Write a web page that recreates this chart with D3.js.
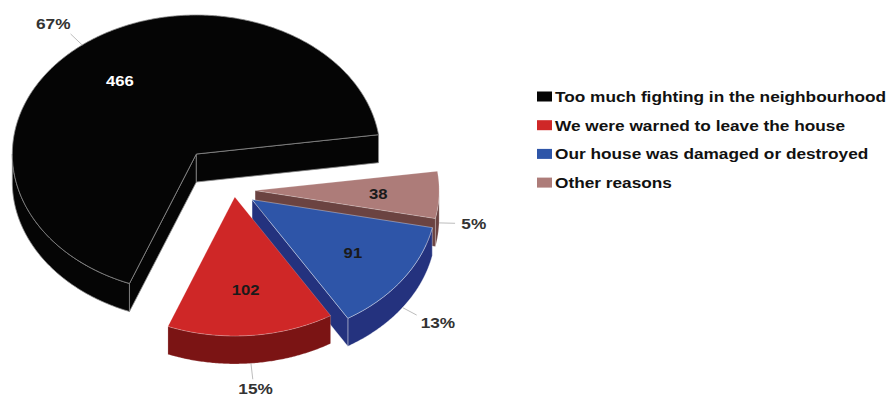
<!DOCTYPE html>
<html><head><meta charset="utf-8">
<script src="https://cdn.jsdelivr.net/npm/d3@7"></script>
<style>body{margin:0;background:#fff}svg{display:block}</style>
</head><body>
<svg id="chart" width="893" height="397"></svg>
<script>
// ---- data ----
const categories = ["Too much fighting in the neighbourhood", "We were warned to leave the house", "Our house was damaged or destroyed", "Other reasons"];
const values = [466, 102, 91, 38];

// ---- style ----
const topColors = ["#050505", "#cf2727", "#2e55a8", "#ad7c79"];
const sideColors = ["#050505", "#7b1414", "#24327e", "#6b4341"];
const strokeColors = ["#8a8a8a", "rgba(255,255,255,0.25)", "rgba(255,255,255,0.45)", "rgba(255,255,255,0.25)"];
const explode = [0.33, 0.05, 0.12, 0.115];
const valueColors = ["#ffffff", "#1a1a1a", "#1a1a1a", "#1a1a1a"];

const W = 893, H = 397;
const svg = d3.select("#chart");
svg.append("rect").attr("width", W).attr("height", H).attr("fill", "#fff");

const cx = 234, cy = 190, RX = 184, RY = 139, DEPTH = 28;
const deg = Math.PI / 180;
const a0 = 82 * deg;
const FONT = "'Liberation Sans', Arial, Helvetica, sans-serif";
const SX = 1.15;

const pie = d3.pie().sort(null).startAngle(a0).endAngle(a0 - 2 * Math.PI);
const arcs = pie(values);
const total = d3.sum(values);
const pct = d3.format(".0%");

function proj(o, a, r, z) {
  return [o[0] + r * RX * Math.sin(a), o[1] - r * RY * Math.cos(a) + z];
}
const line = d3.line();

function samples(lo, hi) {
  const n = Math.max(2, Math.ceil((hi - lo) / (0.5 * deg)));
  return d3.range(n + 1).map(k => lo + (hi - lo) * k / n);
}

const slices = arcs.map((d, i) => {
  const lo = Math.min(d.startAngle, d.endAngle);
  const hi = Math.max(d.startAngle, d.endAngle);
  const mid = (lo + hi) / 2;
  const apex = proj([cx, cy], mid, explode[i], 0);
  return { i, d, lo, hi, mid, apex };
});

const order = slices.slice().sort((a, b) => (-Math.cos(a.mid)) - (-Math.cos(b.mid)));

const g = svg.append("g");

order.forEach(s => {
  const gs = g.append("g");
  const faces = [];
  // outer wall (front half only)
  for (let k = -3; k <= 3; k++) {
    const f0 = Math.PI / 2 + 2 * Math.PI * k, f1 = 3 * Math.PI / 2 + 2 * Math.PI * k;
    const l = Math.max(s.lo, f0), h = Math.min(s.hi, f1);
    if (h > l) {
      const as = samples(l, h);
      const pts = as.map(a => proj(s.apex, a, 1, 0)).concat(as.slice().reverse().map(a => proj(s.apex, a, 1, DEPTH)));
      faces.push(pts);
    }
  }
  // cut faces
  if (Math.sin(s.lo) < 0) {
    faces.push([proj(s.apex, s.lo, 0, 0), proj(s.apex, s.lo, 1, 0), proj(s.apex, s.lo, 1, DEPTH), proj(s.apex, s.lo, 0, DEPTH)]);
  }
  if (Math.sin(s.hi) > 0) {
    faces.push([proj(s.apex, s.hi, 0, 0), proj(s.apex, s.hi, 1, 0), proj(s.apex, s.hi, 1, DEPTH), proj(s.apex, s.hi, 0, DEPTH)]);
  }
  faces.forEach(pts => {
    gs.append("path").attr("d", line(pts) + "Z")
      .attr("fill", sideColors[s.i]).attr("stroke", strokeColors[s.i])
      .attr("stroke-width", 0.8).attr("stroke-linejoin", "round");
  });
  // top face
  const topPts = [proj(s.apex, s.lo, 0, 0)].concat(samples(s.lo, s.hi).map(a => proj(s.apex, a, 1, 0)));
  gs.append("path").attr("d", line(topPts) + "Z")
    .attr("fill", topColors[s.i]).attr("stroke", strokeColors[s.i])
    .attr("stroke-width", 0.8).attr("stroke-linejoin", "round");
});

function stretchedText(parent, x, y, txt, opts) {
  const gg = parent.append("g").attr("transform", `translate(${x},${y}) scale(${SX},1)`);
  return gg.append("text").text(txt)
    .attr("font-family", FONT).attr("font-weight", "bold")
    .attr("font-size", opts.size || 14)
    .attr("text-anchor", opts.anchor || "middle")
    .attr("dy", opts.dy || "0.36em")
    .attr("fill", opts.fill || "#222");
}

// value labels inside slices
slices.forEach(s => {
  const p = proj(s.apex, s.mid, 0.67, 0);
  stretchedText(svg, p[0], p[1], String(values[s.i]), { fill: valueColors[s.i], size: 14.5 });
});

// percent labels with leader lines
slices.forEach(s => {
  const front = -Math.cos(s.mid) > 0;
  const st = proj(s.apex, s.mid, 1, front ? DEPTH : 0);
  let dx = RX * Math.sin(s.mid), dy = -RY * Math.cos(s.mid);
  const len = Math.hypot(dx, dy); dx /= len; dy /= len;
  const en = [st[0] + dx * 16, st[1] + dy * 16];
  svg.append("line").attr("x1", st[0]).attr("y1", st[1]).attr("x2", en[0]).attr("y2", en[1])
    .attr("stroke", "#bdbdbd").attr("stroke-width", 1);
  const txt = pct(values[s.i] / total);
  const hw = txt.length * 0.62 * 15 * SX / 2, hh = 5;
  const c = [en[0] + dx * (hw + 8), Math.min(H - 8, en[1] + dy * (hh + 10))];
  stretchedText(svg, c[0], c[1], txt, { fill: "#333", size: 15 });
});

// legend
const lg = svg.append("g");
categories.forEach((c, i) => {
  const y = 102 + i * 28.7;
  lg.append("rect").attr("x", 537).attr("y", y - 10.5).attr("width", 15).attr("height", 10)
    .attr("fill", topColors[i]);
  stretchedText(lg, 555, y, c, { anchor: "start", dy: "0", size: 15, fill: "#111" });
});
</script>
</body></html>
